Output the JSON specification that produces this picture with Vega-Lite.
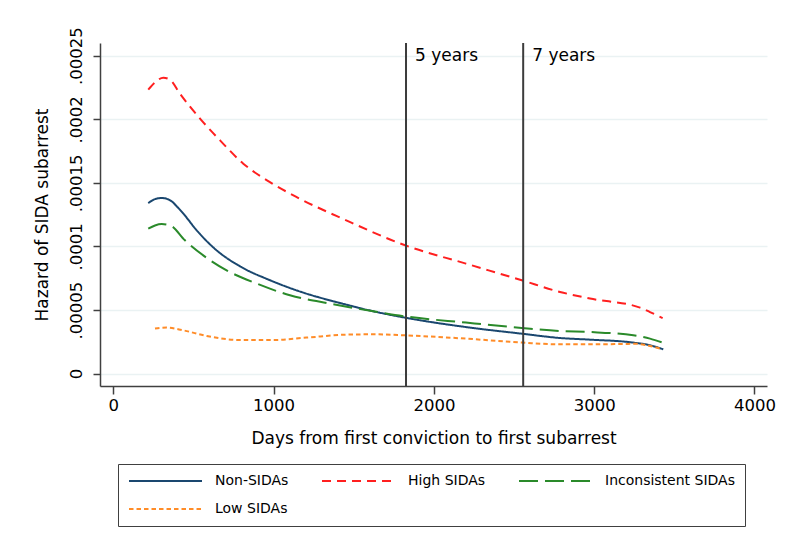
{
  "$schema": "https://vega.github.io/schema/vega-lite/v6.json",
  "width": 667,
  "height": 343,
  "autosize": {"type": "none"},
  "padding": {"left": 100, "top": 43, "right": 33, "bottom": 155},
  "background": "white",
  "config": {
    "view": {"stroke": null},
    "font": "DejaVu Sans",
    "axis": {
      "domainColor": "#404040", "domainWidth": 1.5,
      "tickColor": "#404040", "tickWidth": 1.5,
      "labelColor": "#000000", "titleColor": "#000000",
      "titleFontWeight": "normal", "labelFlush": false, "labelOverlap": false
    },
    "legend": {
      "orient": "none", "legendX": 18, "legendY": 421, "direction": "horizontal",
      "columns": 3, "symbolType": "stroke", "symbolSize": 5329,
      "symbolStrokeWidth": 2, "clipHeight": 14,
      "labelFontSize": 14, "labelColor": "#000000", "labelOffset": 12,
      "columnPadding": 32, "rowPadding": 14, "padding": 10,
      "strokeColor": "#404040", "title": null, "labelLimit": 300
    }
  },
  "datasets": {
    "curves": [
      {"group": "Non-SIDAs", "x": 218, "y": 0.0001341},
      {"group": "Non-SIDAs", "x": 260, "y": 0.0001372},
      {"group": "Non-SIDAs", "x": 302, "y": 0.0001381},
      {"group": "Non-SIDAs", "x": 340, "y": 0.0001372},
      {"group": "Non-SIDAs", "x": 364, "y": 0.0001355},
      {"group": "Non-SIDAs", "x": 400, "y": 0.0001310},
      {"group": "Non-SIDAs", "x": 437, "y": 0.0001258},
      {"group": "Non-SIDAs", "x": 520, "y": 0.0001127},
      {"group": "Non-SIDAs", "x": 645, "y": 0.0000969},
      {"group": "Non-SIDAs", "x": 790, "y": 0.0000844},
      {"group": "Non-SIDAs", "x": 978, "y": 0.0000734},
      {"group": "Non-SIDAs", "x": 1185, "y": 0.0000637},
      {"group": "Non-SIDAs", "x": 1414, "y": 0.0000555},
      {"group": "Non-SIDAs", "x": 1622, "y": 0.0000490},
      {"group": "Non-SIDAs", "x": 1820, "y": 0.0000440},
      {"group": "Non-SIDAs", "x": 2200, "y": 0.0000366},
      {"group": "Non-SIDAs", "x": 2548, "y": 0.0000314},
      {"group": "Non-SIDAs", "x": 2787, "y": 0.0000280},
      {"group": "Non-SIDAs", "x": 2974, "y": 0.0000267},
      {"group": "Non-SIDAs", "x": 3244, "y": 0.0000244},
      {"group": "Non-SIDAs", "x": 3348, "y": 0.0000223},
      {"group": "Non-SIDAs", "x": 3431, "y": 0.0000191},

      {"group": "High SIDAs", "x": 218, "y": 0.0002233},
      {"group": "High SIDAs", "x": 260, "y": 0.0002290},
      {"group": "High SIDAs", "x": 312, "y": 0.0002327},
      {"group": "High SIDAs", "x": 354, "y": 0.0002311},
      {"group": "High SIDAs", "x": 416, "y": 0.0002201},
      {"group": "High SIDAs", "x": 541, "y": 0.0002005},
      {"group": "High SIDAs", "x": 666, "y": 0.0001834},
      {"group": "High SIDAs", "x": 811, "y": 0.0001651},
      {"group": "High SIDAs", "x": 977, "y": 0.0001506},
      {"group": "High SIDAs", "x": 1144, "y": 0.0001388},
      {"group": "High SIDAs", "x": 1445, "y": 0.0001210},
      {"group": "High SIDAs", "x": 1820, "y": 0.0001009},
      {"group": "High SIDAs", "x": 2200, "y": 0.0000865},
      {"group": "High SIDAs", "x": 2548, "y": 0.0000734},
      {"group": "High SIDAs", "x": 2787, "y": 0.0000642},
      {"group": "High SIDAs", "x": 2974, "y": 0.0000590},
      {"group": "High SIDAs", "x": 3286, "y": 0.0000519},
      {"group": "High SIDAs", "x": 3348, "y": 0.0000484},
      {"group": "High SIDAs", "x": 3427, "y": 0.0000437},

      {"group": "Inconsistent SIDAs", "x": 218, "y": 0.0001140},
      {"group": "Inconsistent SIDAs", "x": 260, "y": 0.0001165},
      {"group": "Inconsistent SIDAs", "x": 302, "y": 0.0001176},
      {"group": "Inconsistent SIDAs", "x": 354, "y": 0.0001166},
      {"group": "Inconsistent SIDAs", "x": 447, "y": 0.0001048},
      {"group": "Inconsistent SIDAs", "x": 561, "y": 0.0000930},
      {"group": "Inconsistent SIDAs", "x": 707, "y": 0.0000812},
      {"group": "Inconsistent SIDAs", "x": 895, "y": 0.0000708},
      {"group": "Inconsistent SIDAs", "x": 1102, "y": 0.0000616},
      {"group": "Inconsistent SIDAs", "x": 1352, "y": 0.0000550},
      {"group": "Inconsistent SIDAs", "x": 1622, "y": 0.0000490},
      {"group": "Inconsistent SIDAs", "x": 1820, "y": 0.0000450},
      {"group": "Inconsistent SIDAs", "x": 2200, "y": 0.0000401},
      {"group": "Inconsistent SIDAs", "x": 2548, "y": 0.0000359},
      {"group": "Inconsistent SIDAs", "x": 2787, "y": 0.0000335},
      {"group": "Inconsistent SIDAs", "x": 2974, "y": 0.0000327},
      {"group": "Inconsistent SIDAs", "x": 3244, "y": 0.0000301},
      {"group": "Inconsistent SIDAs", "x": 3348, "y": 0.0000275},
      {"group": "Inconsistent SIDAs", "x": 3427, "y": 0.0000244},

      {"group": "Low SIDAs", "x": 260, "y": 0.0000354},
      {"group": "Low SIDAs", "x": 333, "y": 0.0000362},
      {"group": "Low SIDAs", "x": 437, "y": 0.0000340},
      {"group": "Low SIDAs", "x": 583, "y": 0.0000296},
      {"group": "Low SIDAs", "x": 790, "y": 0.0000264},
      {"group": "Low SIDAs", "x": 998, "y": 0.0000264},
      {"group": "Low SIDAs", "x": 1206, "y": 0.0000283},
      {"group": "Low SIDAs", "x": 1466, "y": 0.0000307},
      {"group": "Low SIDAs", "x": 1622, "y": 0.0000309},
      {"group": "Low SIDAs", "x": 1820, "y": 0.0000301},
      {"group": "Low SIDAs", "x": 2200, "y": 0.0000275},
      {"group": "Low SIDAs", "x": 2548, "y": 0.0000244},
      {"group": "Low SIDAs", "x": 2787, "y": 0.0000230},
      {"group": "Low SIDAs", "x": 2974, "y": 0.0000230},
      {"group": "Low SIDAs", "x": 3265, "y": 0.0000234},
      {"group": "Low SIDAs", "x": 3348, "y": 0.0000217},
      {"group": "Low SIDAs", "x": 3410, "y": 0.0000197}
    ],
    "marks": [
      {"x": 1826, "label": "5 years"},
      {"x": 2557, "label": "7 years"}
    ]
  },
  "encoding": {
    "x": {
      "field": "x", "type": "quantitative",
      "scale": {"domain": [-83, 4078], "nice": false, "zero": false},
      "axis": {
        "title": "Days from first conviction to first subarrest",
        "values": [0, 1000, 2000, 3000, 4000], "format": "d",
        "grid": false, "tickSize": 8, "labelFontSize": 16.5, "labelPadding": 3,
        "titleFontSize": 17, "titlePadding": 17
      }
    }
  },
  "layer": [
    {
      "data": {"name": "curves"},
      "mark": {"type": "line", "interpolate": "monotone", "strokeWidth": 2},
      "encoding": {
        "y": {
          "field": "y", "type": "quantitative",
          "scale": {"domain": [-0.00000975, 0.00026], "nice": false, "zero": false},
          "axis": {
            "title": "Hazard of SIDA subarrest",
            "values": [0, 0.00005, 0.0001, 0.00015, 0.0002, 0.00025],
            "labelExpr": "datum.value == 0 ? '0' : replace(format(datum.value, '.5~f'), '0.', '.')",
            "grid": true, "gridColor": "#eaf2f3", "gridWidth": 1.5,
            "tickSize": 7, "labelAngle": 270, "labelAlign": "center", "labelBaseline": "bottom",
            "labelFontSize": 16.5, "labelPadding": 9, "titleFontSize": 17, "titlePadding": 17
          }
        },
        "color": {
          "field": "group", "type": "nominal",
          "scale": {
            "domain": ["Non-SIDAs", "High SIDAs", "Inconsistent SIDAs", "Low SIDAs"],
            "range": ["#1a476f", "#ff1f1f", "#2a8a2a", "#ff8c28"]
          },
          "legend": {"title": null}
        },
        "strokeDash": {
          "field": "group", "type": "nominal",
          "scale": {
            "domain": ["Non-SIDAs", "High SIDAs", "Inconsistent SIDAs", "Low SIDAs"],
            "range": [[1, 0], [9, 6], [19, 7], [4.5, 3]]
          },
          "legend": {"title": null}
        }
      }
    },
    {
      "data": {"name": "marks"},
      "mark": {"type": "rule", "color": "#3c3c3c", "strokeWidth": 2},
      "encoding": {}
    },
    {
      "data": {"name": "marks"},
      "mark": {"type": "text", "align": "left", "baseline": "middle", "dx": 9, "fontSize": 17, "color": "#000000"},
      "encoding": {
        "y": {"datum": 0.00025, "type": "quantitative", "title": "Hazard of SIDA subarrest"},
        "text": {"field": "label"}
      }
    }
  ]
}
